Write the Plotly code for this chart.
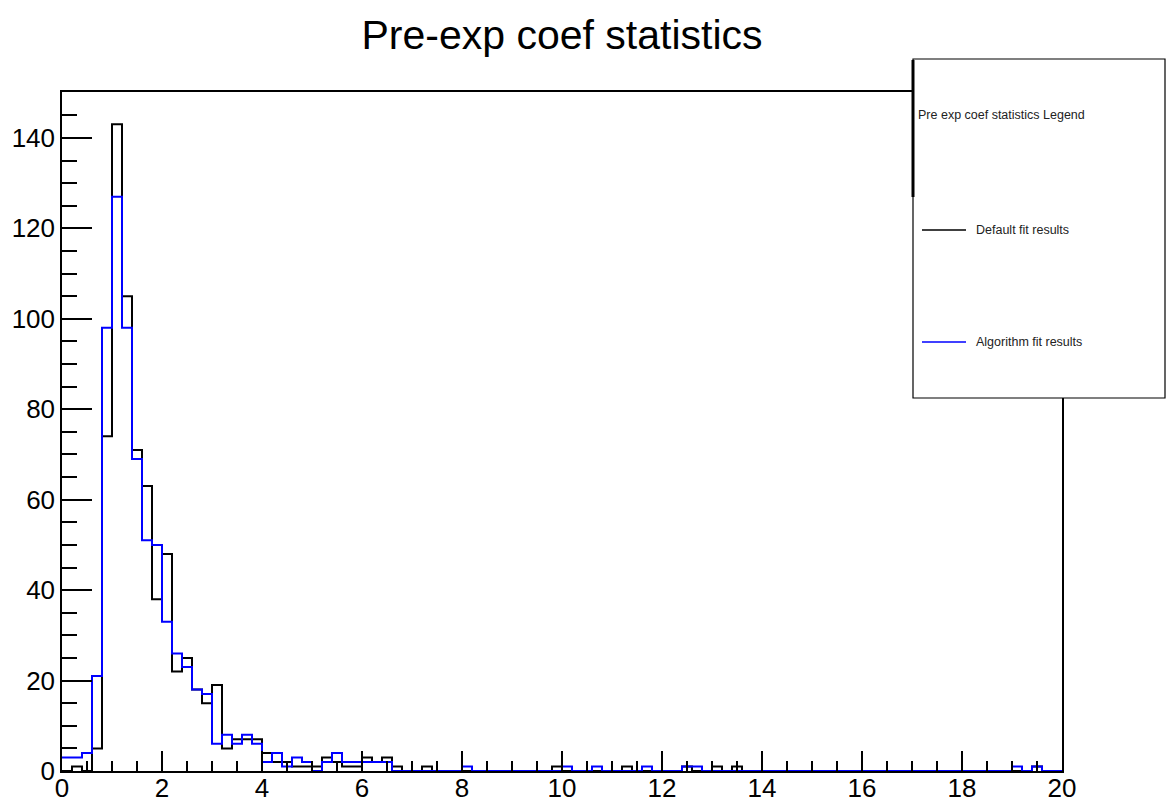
import numpy as np
import plotly.graph_objects as go

# Histogram binning: 100 bins of width 0.2 over [0, 20]
n_bins = 100
x_min, x_max = 0.0, 20.0

# Bin contents, "Default fit results" (black)
default_counts = [
    0, 1, 0, 5, 74, 143, 105, 71, 63, 38,
    48, 22, 25, 18, 15, 19, 5, 7, 7, 7,
    4, 2, 2, 1, 1, 1, 3, 2, 1, 1,
    3, 2, 3, 1, 0, 0, 1, 0, 0, 0,
    0, 0, 0, 0, 0, 0, 0, 0, 0, 1,
    0, 0, 0, 0, 0, 0, 1, 0, 0, 0,
    0, 0, 1, 0, 0, 1, 0, 1, 0, 0,
    0, 0, 0, 0, 0, 0, 0, 0, 0, 0,
    0, 0, 0, 0, 0, 0, 0, 0, 0, 0,
    0, 0, 0, 0, 0, 0, 0, 1, 0, 0,
]

# Bin contents, "Algorithm fit results" (blue)
algorithm_counts = [
    3, 3, 4, 21, 98, 127, 98, 69, 51, 50,
    33, 26, 23, 18, 17, 6, 8, 6, 8, 6,
    2, 4, 1, 3, 2, 0, 2, 4, 2, 2,
    2, 2, 2, 0, 0, 0, 0, 0, 0, 0,
    1, 0, 0, 0, 0, 0, 0, 0, 0, 0,
    1, 0, 0, 1, 0, 0, 0, 0, 1, 0,
    0, 0, 1, 1, 0, 0, 0, 0, 0, 0,
    0, 0, 0, 0, 0, 0, 0, 0, 0, 0,
    0, 0, 0, 0, 0, 0, 0, 0, 0, 0,
    0, 0, 0, 0, 0, 1, 0, 1, 0, 0,
]

series_names = ["Default fit results", "Algorithm fit results"]
series_colors = ["#000000", "#0000ff"]
title_text = "Pre-exp coef statistics"
legend_header = "Pre exp coef statistics Legend"

edges = np.linspace(x_min, x_max, n_bins + 1)
y_top = 1.05 * max(max(default_counts), max(algorithm_counts))

W, H = 1171, 807
L, R, T, B = 62, 109, 92, 36
plot_w = W - L - R
plot_h = H - T - B


def px(x):
    return (x - L) / plot_w


def py(y):
    return (H - B - y) / plot_h


def step_trace(counts, color, name):
    ys = list(counts) + [counts[-1]]
    return go.Scatter(
        x=edges, y=ys, mode="lines", line=dict(color=color, width=2, shape="hv"),
        name=name, showlegend=False, hoverinfo="skip",
    )


fig = go.Figure()
fig.add_trace(step_trace(default_counts, series_colors[0], series_names[0]))
fig.add_trace(step_trace(algorithm_counts, series_colors[1], series_names[1]))

font_family = "Liberation Sans, Arial, Helvetica, sans-serif"

axis_common = dict(
    showgrid=False, zeroline=False, showline=True, linecolor="black", linewidth=1.5,
    mirror=True, ticks="inside", tickcolor="black", tickwidth=1.5, automargin=False,
    tickfont=dict(family=font_family, size=26, color="black"),
)

fig.update_layout(
    width=W, height=H,
    margin=dict(l=L, r=R, t=T, b=B, autoexpand=False),
    paper_bgcolor="white", plot_bgcolor="white",
    title=dict(text=title_text, x=562 / W, xanchor="center", y=1 - 35 / H, yanchor="middle",
               font=dict(family=font_family, size=41, color="black")),
    xaxis=dict(range=[x_min, x_max], dtick=2, ticklen=20, ticklabelstandoff=-7,
               minor=dict(dtick=0.5, ticklen=10, ticks="inside", tickcolor="black", tickwidth=1.5),
               **axis_common),
    yaxis=dict(range=[0, y_top], dtick=20, ticklen=30, ticklabelstandoff=0,
               minor=dict(dtick=5, ticklen=15, ticks="inside", tickcolor="black", tickwidth=1.5),
               **axis_common),
)

# Legend box drawn on top of the frame
shapes = [
    dict(type="rect", xref="paper", yref="paper", x0=px(913), x1=px(1165), y0=py(398), y1=py(59),
         fillcolor="white", line=dict(color="black", width=1.2), layer="above"),
    dict(type="line", xref="paper", yref="paper", x0=px(913), x1=px(913), y0=py(197), y1=py(60),
         line=dict(color="black", width=3), layer="above"),
    dict(type="line", xref="paper", yref="paper", x0=px(922), x1=px(966), y0=py(230), y1=py(230),
         line=dict(color=series_colors[0], width=1.5), layer="above"),
    dict(type="line", xref="paper", yref="paper", x0=px(922), x1=px(966), y0=py(342), y1=py(342),
         line=dict(color=series_colors[1], width=1.5), layer="above"),
]
fig.update_layout(shapes=shapes)

legend_font = dict(family=font_family, size=12.5, color="#222222")
fig.add_annotation(text=legend_header, xref="paper", yref="paper", x=px(916), y=py(115),
                   xanchor="left", yanchor="middle", showarrow=False, font=legend_font)
fig.add_annotation(text=series_names[0], xref="paper", yref="paper", x=px(974), y=py(230),
                   xanchor="left", yanchor="middle", showarrow=False, font=legend_font)
fig.add_annotation(text=series_names[1], xref="paper", yref="paper", x=px(974), y=py(342),
                   xanchor="left", yanchor="middle", showarrow=False, font=legend_font)

fig.write_html("out.html")
